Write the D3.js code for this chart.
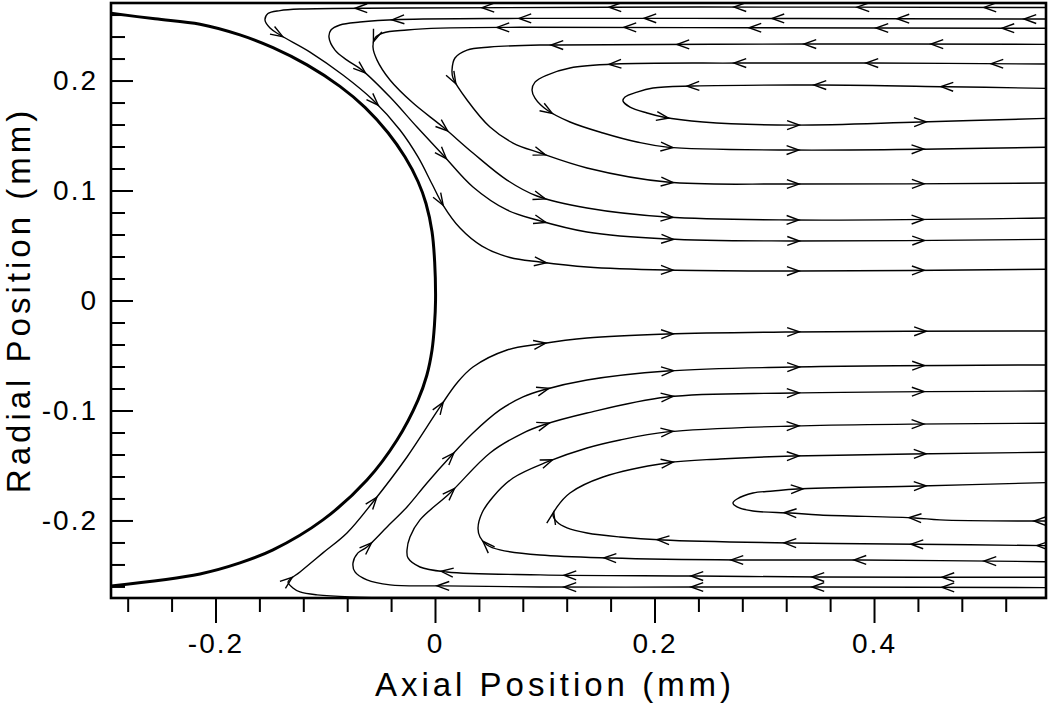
<!DOCTYPE html>
<html><head><meta charset="utf-8">
<script src="https://cdn.jsdelivr.net/npm/d3@7"></script>
<style>
body{margin:0;background:#fff}
svg{display:block}
text{font-family:"Liberation Sans",Arial,Helvetica,sans-serif;fill:#000}
</style>
</head><body>
<svg id="chart" width="1050" height="704"></svg>
<script>
// ---------- data (mm) ----------
const xDomain = [-0.2952, 0.5567];
const yDomain = [-0.2705, 0.2705];
const xMajorTicks = [-0.2, 0, 0.2, 0.4];
const xMinorTicks = [-0.28,-0.24,-0.16,-0.12,-0.08,-0.04,0.04,0.08,0.12,0.16,0.24,0.28,0.32,0.36,0.44,0.48,0.52];
const yMajorTicks = [-0.2, -0.1, 0, 0.1, 0.2];
const yMinorTicks = [-0.26,-0.24,-0.22,-0.18,-0.16,-0.14,-0.12,-0.08,-0.06,-0.04,-0.02,0.02,0.04,0.06,0.08,0.12,0.14,0.16,0.18,0.22,0.24,0.26];
const xTitle = "Axial Position (mm)";
const yTitle = "Radial Position (mm)";

// droplet surface
const dropSurface = [[-0.2952,0.2611],[-0.2551,0.2561],[-0.2141,0.2512],[-0.1777,0.2415],[-0.1476,0.2299],[-0.1166,0.2142],
  [-0.0866,0.1947],[-0.0638,0.1756],[-0.0428,0.1525],[-0.0273,0.1304],[-0.0155,0.1082],[-0.0082,0.0882],[-0.0027,0.0625],
  [-0.0003,0.0350],[0.0005,0.0000],[-0.0005,-0.0227],[-0.0027,-0.0450],[-0.0075,-0.0682],[-0.0155,-0.0905],[-0.0346,-0.1268],
  [-0.0620,-0.1632],[-0.1021,-0.1995],[-0.1476,-0.2268],[-0.1777,-0.2386],[-0.2141,-0.2486],[-0.2952,-0.2595]];

// streamlines, upper half (in flow order)
const streamU1 = [[0.5567,0.2664],[0.2415,0.2668],[-0.0319,0.2659],[-0.1230,0.2650],[-0.1412,0.2636],[-0.1522,0.2609],[-0.1549,0.2550],
  [-0.1503,0.2477],[-0.1412,0.2414],[-0.1139,0.2259],[-0.0839,0.2050],[-0.0565,0.1823],[-0.0319,0.1550],[-0.0155,0.1305],
  [-0.0027,0.1059],[0.0073,0.0868],[0.0228,0.0659],[0.0428,0.0495],[0.0683,0.0391],[0.0957,0.0350],[0.1385,0.0305],
  [0.2114,0.0277],[0.3326,0.0268],[0.5567,0.0284]];
const streamU2 = [[0.5567,0.2559],[0.3326,0.2564],[0.0774,0.2565],[-0.0319,0.2555],[-0.0683,0.2532],[-0.0866,0.2505],[-0.0948,0.2459],
  [-0.0966,0.2395],[-0.0911,0.2277],[-0.0802,0.2186],[-0.0665,0.2095],[-0.0410,0.1850],[-0.0164,0.1577],[0.0073,0.1323],[0.0346,0.1032],
  [0.0656,0.0823],[0.0929,0.0732],[0.1385,0.0623],[0.2114,0.0559],[0.3262,0.0541],[0.5567,0.0556]];
const streamU3 = [[0.5567,0.2475],[0.2916,0.2480],[0.0774,0.2484],[0.0046,0.2477],[-0.0255,0.2459],[-0.0474,0.2432],[-0.0547,0.2386],
  [-0.0565,0.2305],[-0.0528,0.2186],[-0.0410,0.2005],[-0.0200,0.1795],[0.0073,0.1577],[0.0346,0.1341],[0.0656,0.1095],[0.0929,0.0950],
  [0.1385,0.0841],[0.2114,0.0759],[0.3262,0.0732],[0.5567,0.0750]];
const streamU4 = [[0.5567,0.2329],[0.3417,0.2332],[0.1112,0.2323],[0.0957,0.2323],[0.0501,0.2305],[0.0292,0.2277],[0.0182,0.2205],
  [0.0155,0.2095],[0.0164,0.2023],[0.0292,0.1823],[0.0501,0.1577],[0.0711,0.1432],[0.0957,0.1341],[0.1385,0.1205],[0.2114,0.1077],
  [0.3262,0.1059],[0.5567,0.1068]];
const streamU5 = [[0.5567,0.2150],[0.3982,0.2159],[0.2779,0.2159],[0.1640,0.2150],[0.1230,0.2114],[0.1021,0.2050],[0.0911,0.1986],
  [0.0884,0.1914],[0.0911,0.1841],[0.1021,0.1732],[0.1230,0.1623],[0.1531,0.1523],[0.1841,0.1441],[0.2114,0.1395],[0.3262,0.1368],
  [0.5567,0.1393]];
const streamU6 = [[0.5567,0.1929],[0.4665,0.1944],[0.3508,0.1959],[0.2351,0.1950],[0.1986,0.1932],[0.1841,0.1895],[0.1731,0.1850],
  [0.1713,0.1814],[0.1777,0.1759],[0.1932,0.1705],[0.2077,0.1668],[0.2442,0.1623],[0.3262,0.1595],[0.4419,0.1623],[0.5567,0.1656]];

// streamlines, lower half (in flow order)
const streamL1 = [[0.5567,-0.2700],[0.0046,-0.2700],[-0.0774,-0.2695],[-0.1075,-0.2677],[-0.1230,-0.2650],[-0.1294,-0.2614],
  [-0.1339,-0.2559],[-0.1230,-0.2468],[-0.1021,-0.2295],[-0.0802,-0.2114],[-0.0565,-0.1832],[-0.0255,-0.1423],[0.0046,-0.0968],
  [0.0200,-0.0750],[0.0346,-0.0605],[0.0656,-0.0450],[0.0957,-0.0395],[0.1385,-0.0341],[0.2114,-0.0305],[0.3262,-0.0286],[0.5567,-0.0277]];
const streamL2 = [[0.5567,-0.2611],[0.3490,-0.2605],[0.2387,-0.2605],[0.0957,-0.2605],[0.0073,-0.2595],[-0.0410,-0.2586],[-0.0620,-0.2541],
  [-0.0729,-0.2468],[-0.0747,-0.2386],[-0.0702,-0.2295],[-0.0620,-0.2241],[-0.0437,-0.2059],[-0.0255,-0.1877],[-0.0073,-0.1659],
  [0.0137,-0.1423],[0.0346,-0.1205],[0.0592,-0.0995],[0.0802,-0.0877],[0.0984,-0.0814],[0.1385,-0.0723],[0.2114,-0.0641],
  [0.3262,-0.0605],[0.5567,-0.0586]];
const streamL3 = [[0.5567,-0.2516],[0.3490,-0.2514],[0.2387,-0.2505],[0.0957,-0.2495],[0.0109,-0.2468],[-0.0137,-0.2423],[-0.0246,-0.2341],
  [-0.0255,-0.2268],[-0.0228,-0.2150],[-0.0137,-0.1995],[0.0137,-0.1750],[0.0501,-0.1386],[0.0802,-0.1205],[0.0984,-0.1132],
  [0.1385,-0.1023],[0.2114,-0.0877],[0.3262,-0.0841],[0.5567,-0.0823]];
const streamL4 = [[0.5567,-0.2375],[0.3872,-0.2359],[0.2752,-0.2359],[0.1595,-0.2341],[0.0957,-0.2314],[0.0592,-0.2268],[0.0474,-0.2223],
  [0.0410,-0.2150],[0.0392,-0.2068],[0.0428,-0.1932],[0.0528,-0.1786],[0.0711,-0.1614],[0.1021,-0.1468],[0.1385,-0.1341],
  [0.1686,-0.1268],[0.2114,-0.1195],[0.3262,-0.1141],[0.5567,-0.1116]];
const streamL5 = [[0.5567,-0.2229],[0.4392,-0.2216],[0.3235,-0.2205],[0.2077,-0.2177],[0.1686,-0.2150],[0.1385,-0.2114],[0.1203,-0.2068],
  [0.1112,-0.2014],[0.1075,-0.1950],[0.1112,-0.1877],[0.1230,-0.1750],[0.1531,-0.1605],[0.2114,-0.1477],[0.2597,-0.1441],
  [0.3262,-0.1414],[0.5567,-0.1380]];
const streamL6 = [[0.5567,-0.2005],[0.4601,-0.1995],[0.4374,-0.1977],[0.3508,-0.1950],[0.3235,-0.1932],[0.2897,-0.1914],[0.2752,-0.1877],
  [0.2715,-0.1841],[0.2752,-0.1805],[0.2897,-0.1750],[0.3080,-0.1732],[0.3298,-0.1714],[0.4419,-0.1686],[0.5567,-0.1656]];

// arrow-head locations on each streamline
const arrowsU1 = [[-0.0674,0.266],[0.0483,0.266],[0.1640,0.266],[0.2779,0.266],[0.3900,0.266],[0.5057,0.266],[-0.1431,0.2441],
  [-0.0574,0.180],[0.0046,0.091],[0.0957,0.035],[0.2114,0.028],[0.3262,0.026],[0.4401,0.027]];
const arrowsU2 = [[-0.0337,0.2555],[0.0820,0.2565],[0.1959,0.2565],[0.3125,0.2564],[0.4264,0.256],[0.5421,0.256],[-0.0665,0.2114],
  [0.0073,0.134],[0.0957,0.071],[0.2114,0.056],[0.3262,0.054],[0.4401,0.055]];
const arrowsU3 = [[-0.0519,0.2386],[0.0620,0.248],[0.1777,0.248],[0.2916,0.248],[0.4073,0.248],[0.5221,0.2475],[0.0073,0.158],
  [0.0957,0.094],[0.2114,0.076],[0.3262,0.073],[0.4401,0.074]];
const arrowsU4 = [[0.1112,0.2323],[0.2260,0.232],[0.3417,0.233],[0.4574,0.233],[0.0164,0.2023],[0.0957,0.134],[0.2114,0.108],
  [0.3262,0.106],[0.4401,0.106]];
const arrowsU5 = [[0.1640,0.215],[0.2779,0.216],[0.3982,0.216],[0.5121,0.215],[0.1021,0.173],[0.2114,0.1395],[0.3262,0.137],[0.4401,0.137]];
const arrowsU6 = [[0.2351,0.195],[0.3508,0.196],[0.4665,0.194],[0.2077,0.167],[0.3262,0.160],[0.4419,0.162]];
const arrowsL1 = [[-0.1339,-0.2559],[-0.0565,-0.1832],[0.0046,-0.0968],[0.0957,-0.0395],[0.2114,-0.0305],[0.3262,-0.0286],[0.4419,-0.028]];
const arrowsL2 = [[0.4674,-0.261],[0.3490,-0.2605],[0.2387,-0.2605],[0.1230,-0.2605],[0.0073,-0.2595],[-0.0620,-0.2241],
  [0.0137,-0.1423],[0.0984,-0.0814],[0.2114,-0.0641],[0.3262,-0.0605],[0.4401,-0.059]];
const arrowsL3 = [[0.4674,-0.2515],[0.3490,-0.2514],[0.2387,-0.2505],[0.1230,-0.2500],[0.0109,-0.2468],[0.0137,-0.175],
  [0.0984,-0.1132],[0.2114,-0.0877],[0.3262,-0.0841],[0.4401,-0.083]];
const arrowsL4 = [[0.5057,-0.2375],[0.3872,-0.236],[0.2752,-0.236],[0.1595,-0.234],[0.0474,-0.2223],[0.1021,-0.1468],
  [0.2114,-0.1195],[0.3262,-0.1141],[0.4401,-0.1125]];
const arrowsL5 = [[0.5540,-0.2229],[0.4392,-0.2216],[0.3235,-0.2205],[0.2077,-0.2177],[0.109,-0.197],[0.2114,-0.1477],
  [0.3262,-0.1414],[0.4419,-0.139]];
const arrowsL6 = [[0.5513,-0.2005],[0.4374,-0.1977],[0.3235,-0.1932],[0.3298,-0.1714],[0.4419,-0.1686]];

const streamlines = [
  {pts: streamU1, arrows: arrowsU1}, {pts: streamU2, arrows: arrowsU2}, {pts: streamU3, arrows: arrowsU3},
  {pts: streamU4, arrows: arrowsU4}, {pts: streamU5, arrows: arrowsU5}, {pts: streamU6, arrows: arrowsU6},
  {pts: streamL1, arrows: arrowsL1}, {pts: streamL2, arrows: arrowsL2}, {pts: streamL3, arrows: arrowsL3},
  {pts: streamL4, arrows: arrowsL4}, {pts: streamL5, arrows: arrowsL5}, {pts: streamL6, arrows: arrowsL6}
];

// ---------- drawing ----------
const svg = d3.select("#chart");
const mLeft = 111, mRight = 1046, mTop = 3, mBottom = 598;
const x = d3.scaleLinear().domain(xDomain).range([mLeft, mRight]);
const y = d3.scaleLinear().domain(yDomain).range([mBottom, mTop]);

svg.append("defs").append("clipPath").attr("id", "plotClip")
  .append("rect").attr("x", mLeft).attr("y", mTop).attr("width", mRight - mLeft).attr("height", mBottom - mTop);

const plot = svg.append("g").attr("clip-path", "url(#plotClip)");
const line = d3.line().x(d => x(d[0])).y(d => y(d[1])).curve(d3.curveCatmullRom.alpha(0.5));

// droplet
plot.append("path").datum(dropSurface).attr("d", line)
  .attr("fill", "none").attr("stroke", "#000").attr("stroke-width", 3);

// streamlines + arrows
streamlines.forEach(s => {
  const p = plot.append("path").datum(s.pts).attr("d", line)
    .attr("fill", "none").attr("stroke", "#000").attr("stroke-width", 1.4);
  const node = p.node();
  const L = node.getTotalLength();
  const samples = [];
  for (let l = 0; l <= L; l += 1) { const q = node.getPointAtLength(l); samples.push([l, q.x, q.y]); }
  s.arrows.forEach(a => {
    const ax = x(a[0]), ay = y(a[1]);
    let best = samples[0], bd = Infinity;
    samples.forEach(t => { const d = (t[1]-ax)**2 + (t[2]-ay)**2; if (d < bd) { bd = d; best = t; } });
    const lt = Math.min(L, best[0] + 6);
    const tip = node.getPointAtLength(lt);
    const p0 = node.getPointAtLength(Math.max(0, lt - 4)), p1 = node.getPointAtLength(Math.min(L, lt + 1));
    const ang = Math.atan2(p1.y - p0.y, p1.x - p0.x);
    const len = 13, h = 0.35;
    const b1 = [tip.x - len*Math.cos(ang - h), tip.y - len*Math.sin(ang - h)];
    const b2 = [tip.x - len*Math.cos(ang + h), tip.y - len*Math.sin(ang + h)];
    plot.append("path").attr("d", `M${b1[0]},${b1[1]}L${tip.x},${tip.y}L${b2[0]},${b2[1]}`)
      .attr("fill", "none").attr("stroke", "#000").attr("stroke-width", 1.4);
  });
});

// axes
const fmt = d => d === 0 ? "0" : d.toFixed(1);
const yAxisMajor = svg.append("g").attr("transform", `translate(${mLeft},0)`)
  .call(d3.axisLeft(y).tickValues(yMajorTicks).tickSize(-22).tickPadding(13).tickFormat(fmt));
const yAxisMinor = svg.append("g").attr("transform", `translate(${mLeft},0)`)
  .call(d3.axisLeft(y).tickValues(yMinorTicks).tickSize(-14).tickFormat(""));
const xAxisMajor = svg.append("g").attr("transform", `translate(0,${mBottom})`)
  .call(d3.axisBottom(x).tickValues(xMajorTicks).tickSize(25).tickPadding(10).tickFormat(fmt));
const xAxisMinor = svg.append("g").attr("transform", `translate(0,${mBottom})`)
  .call(d3.axisBottom(x).tickValues(xMinorTicks).tickSize(14).tickFormat(""));
[yAxisMajor, yAxisMinor, xAxisMajor, xAxisMinor].forEach(g => {
  g.select(".domain").remove();
  g.selectAll(".tick line").attr("stroke", "#000").attr("stroke-width", 2);
  g.selectAll("text").attr("font-size", 28).attr("font-family", null).style("letter-spacing", "2px");
});

// frame
svg.append("rect").attr("x", mLeft).attr("y", mTop).attr("width", mRight - mLeft).attr("height", mBottom - mTop)
  .attr("fill", "none").attr("stroke", "#000").attr("stroke-width", 2.6);

// titles
svg.append("text").attr("x", 555).attr("y", 696).attr("text-anchor", "middle")
  .attr("font-size", 33).style("letter-spacing", "4px").text(xTitle);
svg.append("text").attr("transform", "translate(30,300) rotate(-90)").attr("text-anchor", "middle")
  .attr("font-size", 33).style("letter-spacing", "4px").text(yTitle);
</script>
</body></html>
